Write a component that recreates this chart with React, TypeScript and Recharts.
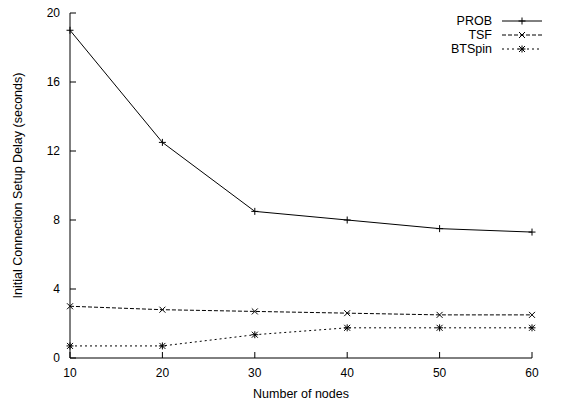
import React from 'react';
import { LineChart, Line, XAxis, YAxis } from 'recharts';

const nodes = [10, 20, 30, 40, 50, 60];
const prob = [19.0, 12.5, 8.5, 8.0, 7.5, 7.3];
const tsf = [3.0, 2.8, 2.7, 2.6, 2.5, 2.5];
const btspin = [0.7, 0.7, 1.35, 1.75, 1.75, 1.75];
const yTicks = [0, 4, 8, 12, 16, 20];

const data = nodes.map((n, i) => ({ nodes: n, prob: prob[i], tsf: tsf[i], btspin: btspin[i] }));

const FONT = '"Liberation Sans", Arial, sans-serif';

type MarkKind = 'plus' | 'cross' | 'star';

const mark = (kind: MarkKind, cx: number, cy: number, key?: string) => {
  const s = 3.5;
  const plus = [
    <line key="h" x1={cx - s} y1={cy} x2={cx + s} y2={cy} />,
    <line key="v" x1={cx} y1={cy - s} x2={cx} y2={cy + s} />,
  ];
  const cross = [
    <line key="a" x1={cx - 3} y1={cy - 3} x2={cx + 3} y2={cy + 3} />,
    <line key="b" x1={cx - 3} y1={cy + 3} x2={cx + 3} y2={cy - 3} />,
  ];
  return (
    <g key={key} stroke="#000" strokeWidth={1}>
      {kind === 'plus' && plus}
      {kind === 'cross' && cross}
      {kind === 'star' && [...plus, ...cross]}
    </g>
  );
};

const dotOf = (kind: MarkKind) => (props: any) => {
  const { cx, cy, index } = props;
  return mark(kind, cx, cy, `d${index}`);
};

const XTick = (props: any) => {
  const { x, y, payload } = props;
  return (
    <g>
      <line x1={x} y1={y - 10} x2={x} y2={y - 16} stroke="#000" />
      <text x={x} y={y} dy="0.71em" textAnchor="middle" fontSize={12} fontFamily={FONT} fill="#000">
        {payload.value}
      </text>
    </g>
  );
};

const YTick = (props: any) => {
  const { x, y, payload } = props;
  return (
    <g>
      <line x1={x + 10} y1={y} x2={x + 16} y2={y} stroke="#000" />
      <text x={x} y={y} dy="0.355em" textAnchor="end" fontSize={12} fontFamily={FONT} fill="#000">
        {payload.value}
      </text>
    </g>
  );
};

const series: { name: string; kind: MarkKind; dash?: string }[] = [
  { name: 'PROB', kind: 'plus' },
  { name: 'TSF', kind: 'cross', dash: '4 2' },
  { name: 'BTSpin', kind: 'star', dash: '2 3' },
];

// gnuplot-style key, top right, drawn over the plot
const LegendBox = () => (
  <svg width={140} height={48} style={{ position: 'absolute', left: 420, top: 12 }}>
    {series.map((s, i) => {
      const y = 9 + i * 14;
      return (
        <g key={s.name}>
          <text x={72} y={y} dy="0.355em" textAnchor="end" fontSize={12.5} fontFamily={FONT} fill="#000">
            {s.name}
          </text>
          <line x1={82} y1={y} x2={122} y2={y} stroke="#000" strokeDasharray={s.dash} />
          {mark(s.kind, 102, y)}
        </g>
      );
    })}
  </svg>
);

export default function App() {
  return (
    <div style={{ position: 'absolute', left: 0, top: 0, width: 574, height: 402, background: '#fff' }}>
      <LineChart width={574} height={402} data={data} margin={{ top: 13, right: 42, bottom: 0, left: 0 }}>
        <XAxis
          dataKey="nodes"
          type="number"
          domain={[10, 60]}
          ticks={nodes}
          height={44}
          tickSize={0}
          tickMargin={10}
          tick={<XTick />}
          axisLine={{ stroke: '#000' }}
          label={{ value: 'Number of nodes', position: 'insideBottom', offset: 4, fontSize: 12.5, fontFamily: FONT, fill: '#000' }}
        />
        <YAxis
          type="number"
          domain={[0, 20]}
          ticks={yTicks}
          width={70}
          tickSize={0}
          tickMargin={10}
          tick={<YTick />}
          axisLine={{ stroke: '#000' }}
          label={{
            value: 'Initial Connection Setup Delay (seconds)',
            angle: -90,
            position: 'insideLeft',
            offset: 18,
            fontSize: 12.5,
            fontFamily: FONT,
            fill: '#000',
            style: { textAnchor: 'middle' },
          }}
        />
        <Line dataKey="prob" name="PROB" stroke="#000" strokeWidth={1} dot={dotOf('plus')} activeDot={false} isAnimationActive={false} />
        <Line dataKey="tsf" name="TSF" stroke="#000" strokeWidth={1} strokeDasharray="4 2" dot={dotOf('cross')} activeDot={false} isAnimationActive={false} />
        <Line dataKey="btspin" name="BTSpin" stroke="#000" strokeWidth={1} strokeDasharray="2 3" dot={dotOf('star')} activeDot={false} isAnimationActive={false} />
      </LineChart>
      <LegendBox />
    </div>
  );
}
